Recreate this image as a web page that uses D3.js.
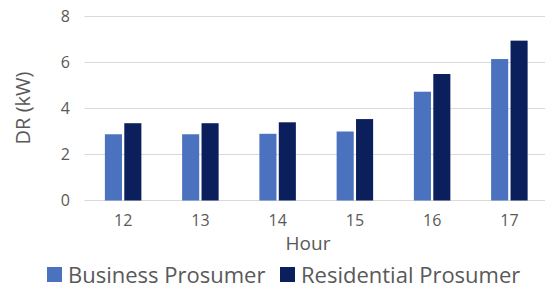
<!DOCTYPE html>
<html><head><meta charset="utf-8">
<script src="https://cdn.jsdelivr.net/npm/d3@7"></script>
<style>body{margin:0;background:#fff}svg{display:block}text{font-family:"Open Sans",sans-serif;fill:#595959}</style>
</head><body><svg id="c" width="545" height="288"></svg>
<script>
const hours = ["12","13","14","15","16","17"];
const business = [2.88, 2.88, 2.9, 3.0, 4.73, 6.15];
const residential = [3.36, 3.36, 3.4, 3.54, 5.5, 6.95];
const yTicks = [0, 2, 4, 6, 8];
const seriesNames = ["Business Prosumer", "Residential Prosumer"];
const colors = ["#4a72bf", "#0b1f5c"];

const svg = d3.select("#c");
const x = d3.scaleBand().domain(hours).range([84.5, 548]);
const xs = d3.scaleBand().domain([0,1]).range([0, x.bandwidth()]).paddingInner(0.12).paddingOuter(1.05);
const y = d3.scaleLinear().domain([0, 8]).range([200.5, 16.5]);

// gridlines
svg.append("g").selectAll("line").data(yTicks).join("line")
  .attr("x1", 84.5).attr("x2", 545).attr("y1", d => y(d)).attr("y2", d => y(d))
  .attr("stroke", "#d9d9d9").attr("stroke-width", 1.2);

// y ticks
const ya = svg.append("g").attr("transform", "translate(70,0)")
  .call(d3.axisLeft(y).tickValues(yTicks).tickSize(0).tickPadding(0));
ya.select(".domain").remove();
ya.selectAll("text").style("font-family", '"Open Sans",sans-serif').style("font-size", "16px").attr("fill", "#595959");

// x ticks
const xa = svg.append("g").attr("transform", "translate(0,212)")
  .call(d3.axisBottom(x).tickSize(0).tickPadding(3));
xa.select(".domain").remove();
xa.selectAll("text").style("font-family", '"Open Sans",sans-serif').style("font-size", "16px").attr("fill", "#595959");

// bars
const data = [business, residential];
data.forEach((vals, si) => {
  svg.append("g").selectAll("rect").data(vals).join("rect")
    .attr("x", (d, i) => x(hours[i]) + xs(si))
    .attr("width", xs.bandwidth())
    .attr("y", d => y(d))
    .attr("height", d => y(0) - y(d))
    .attr("fill", colors[si]);
});

// axis titles
svg.append("text").attr("transform", "translate(30,108) rotate(-90)")
  .attr("text-anchor", "middle").style("font-size", "20px").text("DR (kW)");
svg.append("text").attr("x", 308).attr("y", 250)
  .attr("text-anchor", "middle").style("font-size", "19px").text("Hour");

// legend
const lx = [47, 280];
seriesNames.forEach((n, i) => {
  svg.append("rect").attr("x", lx[i]).attr("y", 267).attr("width", 15).attr("height", 15).attr("fill", colors[i]);
  svg.append("text").attr("x", lx[i] + 21).attr("y", 283).style("font-size", "22px").text(n);
});
</script></body></html>
